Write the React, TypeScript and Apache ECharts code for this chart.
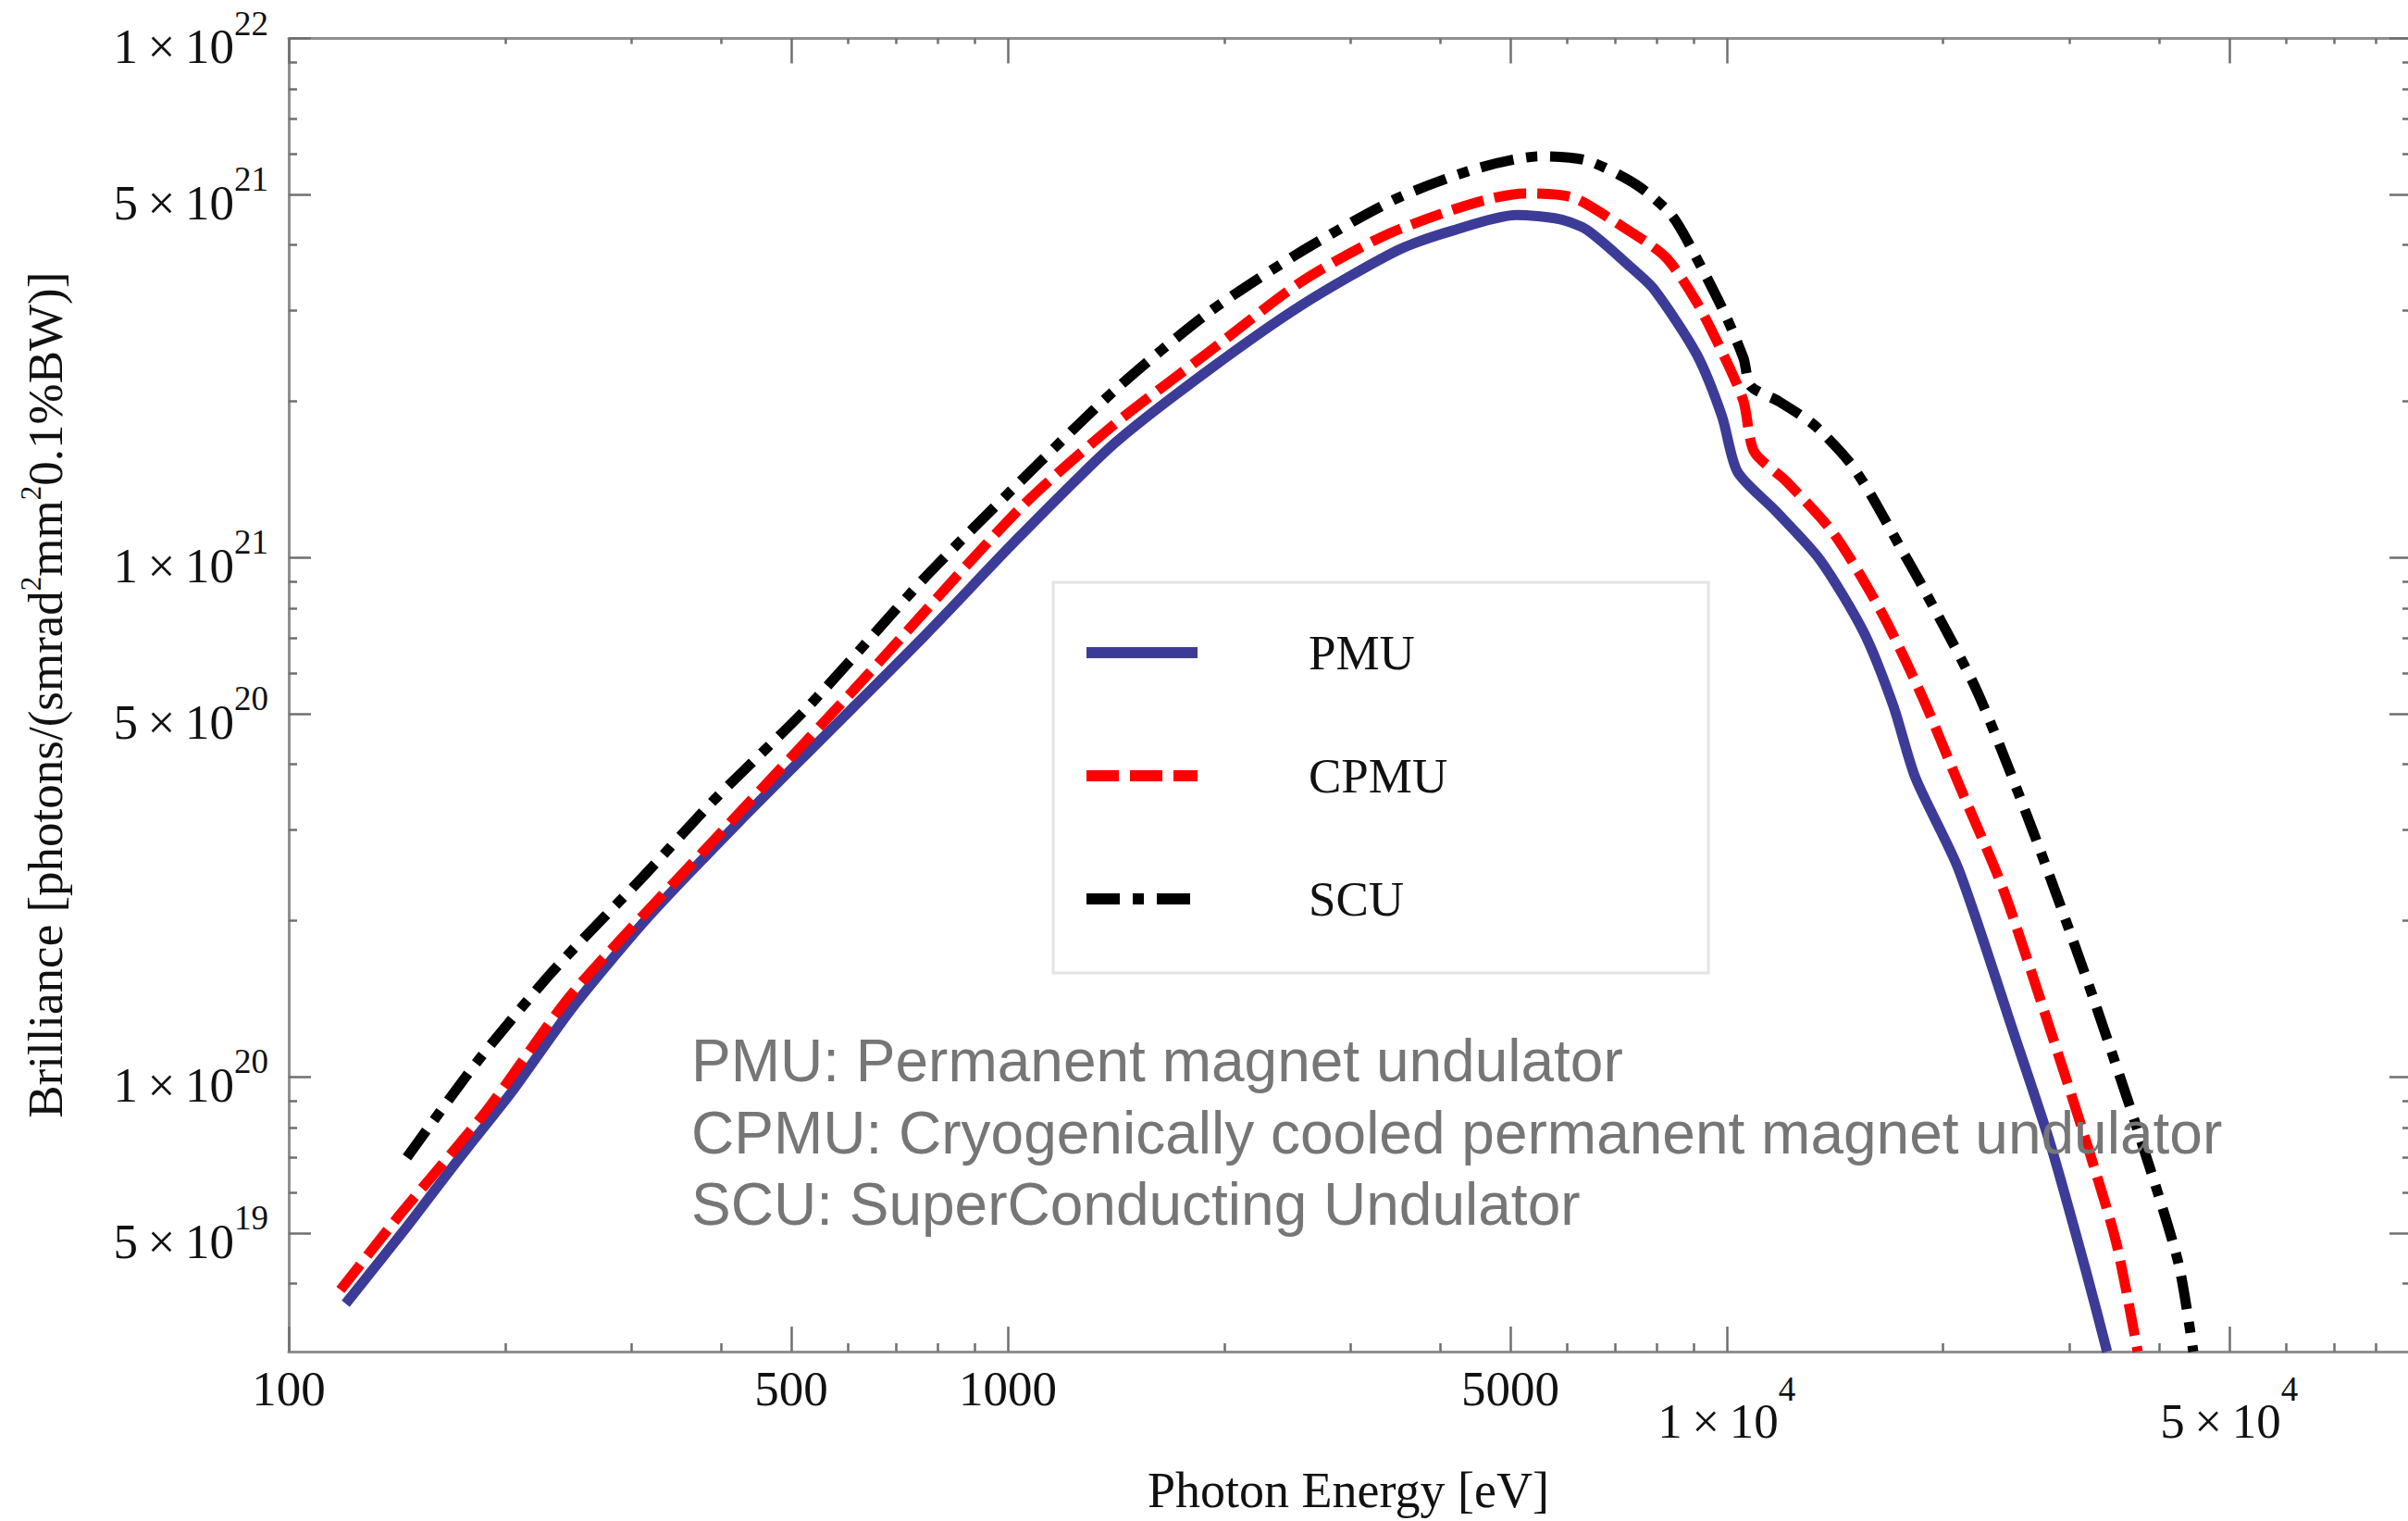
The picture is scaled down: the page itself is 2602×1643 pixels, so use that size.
import React, { useEffect, useRef } from 'react';
import * as echarts from 'echarts';

// ---------- axis ranges & ticks ----------
const X_MIN = 99.999;
const X_MAX = 88640;
const Y_MIN = 2.96e19;
const Y_MAX = 1.00001e22;

const X_MAJOR = [100, 500, 1000, 5000, 10000, 50000];
const X_MAJOR_MANT = ['100', '500', '1000', '5000', '1', '5'];
const X_MAJOR_EXP = ['', '', '', '', '4', '4'];
const X_MINOR = [200, 300, 400, 600, 700, 800, 900, 2000, 3000, 4000, 6000, 7000, 8000, 9000, 20000, 30000, 40000, 60000, 70000, 80000];

const Y_MAJOR = [1e22, 5e21, 1e21, 5e20, 1e20, 5e19];
const Y_MAJOR_MANT = ['1', '5', '1', '5', '1', '5'];
const Y_MAJOR_EXP = ['22', '21', '21', '20', '20', '19'];
const Y_MINOR = [9e21, 8e21, 7e21, 6e21, 4e21, 3e21, 2e21, 9e20, 8e20, 7e20, 6e20, 4e20, 3e20, 2e20, 9e19, 8e19, 7e19, 6e19, 4e19];

// ---------- data (photon energy in eV, brilliance) ----------
const PMU_E = [120, 146, 172, 204, 248, 316, 421, 553, 769, 1040, 1408, 1905, 2578, 3489, 4145, 5097, 5845, 6391, 7318, 7935, 9090, 9854, 10350, 11700, 13490, 15500, 17040, 18290, 21020, 25100, 28220, 31720, 33810];
const PMU_B = [3.66e19, 5.15e19, 6.93e19, 9.34e19, 1.36e20, 2.03e20, 3.08e20, 4.5e20, 7.11e20, 1.1e21, 1.66e21, 2.3e21, 3.08e21, 3.91e21, 4.26e21, 4.57e21, 4.49e21, 4.28e21, 3.65e21, 3.28e21, 2.46e21, 1.87e21, 1.465e21, 1.23e21, 9.9e20, 7.2e20, 5.2e20, 3.78e20, 2.51e20, 1.21e20, 7.4e19, 4.15e19, 2.96e19];

const CPMU_E = [118, 141.5, 188.7, 248, 390, 614, 1040, 1408, 1905, 2578, 3489, 5250, 6110, 7000, 8212, 9090, 9952, 10556, 10920, 12110, 14110, 16440, 18730, 21020, 24240, 27900, 31720, 34830, 37290];
const CPMU_B = [3.89e19, 5.35e19, 8.64e19, 1.449e20, 2.855e20, 5.61e20, 1.244e21, 1.808e21, 2.49e21, 3.42e21, 4.28e21, 5.03e21, 4.94e21, 4.43e21, 3.8e21, 3.1e21, 2.42e21, 2.0e21, 1.6e21, 1.402e21, 1.11e21, 7.83e20, 5.38e20, 3.67e20, 2.3e20, 1.287e20, 7.41e19, 4.79e19, 2.96e19];

const SCU_E = [146, 183.2, 233.1, 311, 390, 527.6, 769, 1040, 1408, 1905, 2578, 3489, 4500, 5500, 6391, 7499, 8401, 9198, 9952, 10556, 10797, 11820, 13240, 14830, 15880, 17400, 18730, 22300, 26620, 31720, 37860, 42480, 44560];
const SCU_B = [7.0e19, 1.074e20, 1.6e20, 2.43e20, 3.41e20, 5.16e20, 9.19e20, 1.4e21, 2.1e21, 2.97e21, 3.91e21, 4.93e21, 5.62e21, 5.93e21, 5.82e21, 5.22e21, 4.55e21, 3.65e21, 2.94e21, 2.42e21, 2.14e21, 2.0e21, 1.8e21, 1.526e21, 1.32e21, 1.053e21, 8.79e20, 5.53e20, 2.995e20, 1.536e20, 7.41e19, 4.39e19, 2.96e19];

const SERIES_NAMES = ['PMU', 'CPMU', 'SCU'];
const NOTES = [
  'PMU: Permanent magnet undulator',
  'CPMU: Cryogenically cooled permanent magnet undulator',
  'SCU: SuperConducting Undulator',
];

const SERIF = '"Liberation Serif", "Times New Roman", Times, serif';
const SANS = '"Liberation Sans", Arial, Helvetica, sans-serif';
const AXIS_GRAY = '#8f8f8f';
const TICK_GRAY = '#6f6f6f';
const TEXT = '#111111';

const zip = (xs: number[], ys: number[]) => xs.map((x, i) => [x, ys[i]]);

const nearest = (arr: number[], v: number) => {
  let best = 0;
  let bd = Infinity;
  arr.forEach((a, i) => {
    const d = Math.abs(Math.log10(a) - Math.log10(v));
    if (d < bd) { bd = d; best = i; }
  });
  return best;
};

const fmtX = (v: number) => {
  const i = nearest(X_MAJOR, v);
  if (!X_MAJOR_EXP[i]) return `{n|${X_MAJOR_MANT[i]}}`;
  return `{b|${X_MAJOR_MANT[i]}\u2009\u00d7\u200910}{s|${X_MAJOR_EXP[i]}}`;
};
const fmtY = (v: number) => {
  const i = nearest(Y_MAJOR, v);
  return `{b|${Y_MAJOR_MANT[i]}\u2009\u00d7\u200910}{s|${Y_MAJOR_EXP[i]}}`;
};

export default function App() {
  const ref = useRef<HTMLDivElement>(null);

  useEffect(() => {
    if (!ref.current) return;
    const chart = echarts.init(ref.current, undefined, { renderer: 'svg' });

    const tickStyle = { color: TICK_GRAY, width: 2.5 };
    const baseAxis = { type: 'log', logBase: 10, splitLine: { show: false }, minorTick: { show: false }, minorSplitLine: { show: false } };

    const xAxes = [
      {
        ...baseAxis, position: 'bottom', min: X_MIN, max: X_MAX,
        axisLine: { show: true, onZero: false, lineStyle: { color: AXIS_GRAY, width: 3 } },
        axisTick: { show: true, inside: true, length: 27, customValues: X_MAJOR, lineStyle: tickStyle },
        axisLabel: {
          show: true, customValues: X_MAJOR, margin: 13, formatter: fmtX,
          rich: {
            n: { fontFamily: SERIF, fontSize: 53, lineHeight: 53, color: TEXT },
            b: { fontFamily: SERIF, fontSize: 53, lineHeight: 88, color: TEXT, verticalAlign: 'bottom' },
            s: { fontFamily: SERIF, fontSize: 37, lineHeight: 37, color: TEXT, verticalAlign: 'top', padding: [9, 0, 0, 0] },
          },
        },
        name: 'Photon Energy [eV]', nameLocation: 'middle', nameGap: 123,
        nameTextStyle: { fontFamily: SERIF, fontSize: 54, color: TEXT },
      },
      {
        ...baseAxis, position: 'bottom', min: X_MIN, max: X_MAX,
        axisLine: { show: false, onZero: false },
        axisTick: { show: true, inside: true, length: 9, customValues: X_MINOR, lineStyle: tickStyle },
        axisLabel: { show: false },
      },
      {
        ...baseAxis, position: 'top', min: X_MIN, max: X_MAX,
        axisLine: { show: true, onZero: false, lineStyle: { color: AXIS_GRAY, width: 3 } },
        axisTick: { show: true, inside: true, length: 27, customValues: X_MAJOR, lineStyle: tickStyle },
        axisLabel: { show: false },
      },
      {
        ...baseAxis, position: 'top', min: X_MIN, max: X_MAX,
        axisLine: { show: false, onZero: false },
        axisTick: { show: true, inside: true, length: 6, customValues: X_MINOR, lineStyle: tickStyle },
        axisLabel: { show: false },
      },
    ];

    const yAxes = [
      {
        ...baseAxis, position: 'left', min: Y_MIN, max: Y_MAX,
        axisLine: { show: true, onZero: false, lineStyle: { color: AXIS_GRAY, width: 3 } },
        axisTick: { show: true, inside: true, length: 24, customValues: Y_MAJOR, lineStyle: tickStyle },
        axisLabel: {
          show: true, customValues: Y_MAJOR, margin: 22, formatter: fmtY,
          rich: {
            b: { fontFamily: SERIF, fontSize: 53, lineHeight: 70, color: TEXT, verticalAlign: 'bottom' },
            s: { fontFamily: SERIF, fontSize: 37, lineHeight: 37, color: TEXT, verticalAlign: 'top' },
          },
        },
        name: '{t|Brilliance [photons/(smrad}{s|2}{t|mm}{s|2}{t|0.1%BW)]}',
        nameLocation: 'middle', nameGap: 237,
        nameTextStyle: {
          fontFamily: SERIF, fontSize: 53, color: TEXT,
          rich: {
            t: { fontFamily: SERIF, fontSize: 53, lineHeight: 66, color: TEXT, verticalAlign: 'bottom' },
            s: { fontFamily: SERIF, fontSize: 31, lineHeight: 31, color: TEXT, verticalAlign: 'top', padding: [9, 0, 0, 0] },
          },
        },
      },
      {
        ...baseAxis, position: 'left', min: Y_MIN, max: Y_MAX,
        axisLine: { show: false, onZero: false },
        axisTick: { show: true, inside: true, length: 9, customValues: Y_MINOR, lineStyle: tickStyle },
        axisLabel: { show: false },
      },
      {
        ...baseAxis, position: 'right', min: Y_MIN, max: Y_MAX,
        axisLine: { show: false, onZero: false },
        axisTick: { show: true, inside: true, length: 20, customValues: Y_MAJOR, lineStyle: tickStyle },
        axisLabel: { show: false },
      },
      {
        ...baseAxis, position: 'right', min: Y_MIN, max: Y_MAX,
        axisLine: { show: false, onZero: false },
        axisTick: { show: true, inside: true, length: 6, customValues: Y_MINOR, lineStyle: tickStyle },
        axisLabel: { show: false },
      },
    ];

    const lineSeries = (name: string, data: number[][], color: string, type: any, z: number) => ({
      name, type: 'line', data, xAxisIndex: 0, yAxisIndex: 0,
      symbol: 'none', showSymbol: false, smooth: 0.25, clip: true, z,
      lineStyle: { color, width: 11, type, cap: 'butt', join: 'round' },
      itemStyle: { color },
      emphasis: { disabled: true },
    });

    const option: any = {
      animation: false,
      backgroundColor: '#ffffff',
      grid: { left: 312, top: 41.5, right: 0, bottom: 183, containLabel: false, outerBoundsMode: 'none' },
      xAxis: xAxes,
      yAxis: yAxes,
      legend: {
        orient: 'vertical', left: 1168, top: 675, padding: 0,
        itemWidth: 120, itemHeight: 2, itemGap: 73,
        data: SERIES_NAMES,
        lineStyle: { width: 12 },
        itemStyle: { opacity: 0 },
        textStyle: { fontFamily: SERIF, fontSize: 53, lineHeight: 60, color: TEXT, padding: [0, 0, 0, 115] },
        selectedMode: false,
      },
      series: [
        lineSeries(SERIES_NAMES[0], zip(PMU_E, PMU_B), '#3c3c98', 'solid', 3),
        lineSeries(SERIES_NAMES[1], zip(CPMU_E, CPMU_B), '#ff0000', [35, 12], 4),
        lineSeries(SERIES_NAMES[2], zip(SCU_E, SCU_B), '#000000', [36, 14, 12, 14], 5),
      ],
      graphic: [
        {
          type: 'rect', z: 1, silent: true,
          shape: { x: 1138, y: 629, width: 708, height: 422 },
          style: { fill: 'none', stroke: '#e4e4e4', lineWidth: 3 },
        },
        ...NOTES.map((t, i) => ({
          type: 'text', z: 100, silent: true, x: 747, y: 1146 + i * 77.5,
          style: { text: t, fontFamily: SANS, fontSize: 64, fill: '#767676', align: 'left', verticalAlign: 'middle' },
        })),
      ],
    };

    chart.setOption(option);
    return () => chart.dispose();
  }, []);

  return (
    <div
      ref={ref}
      style={{ position: 'absolute', left: 0, top: 0, width: 2602, height: 1643, background: '#fff' }}
    />
  );
}
